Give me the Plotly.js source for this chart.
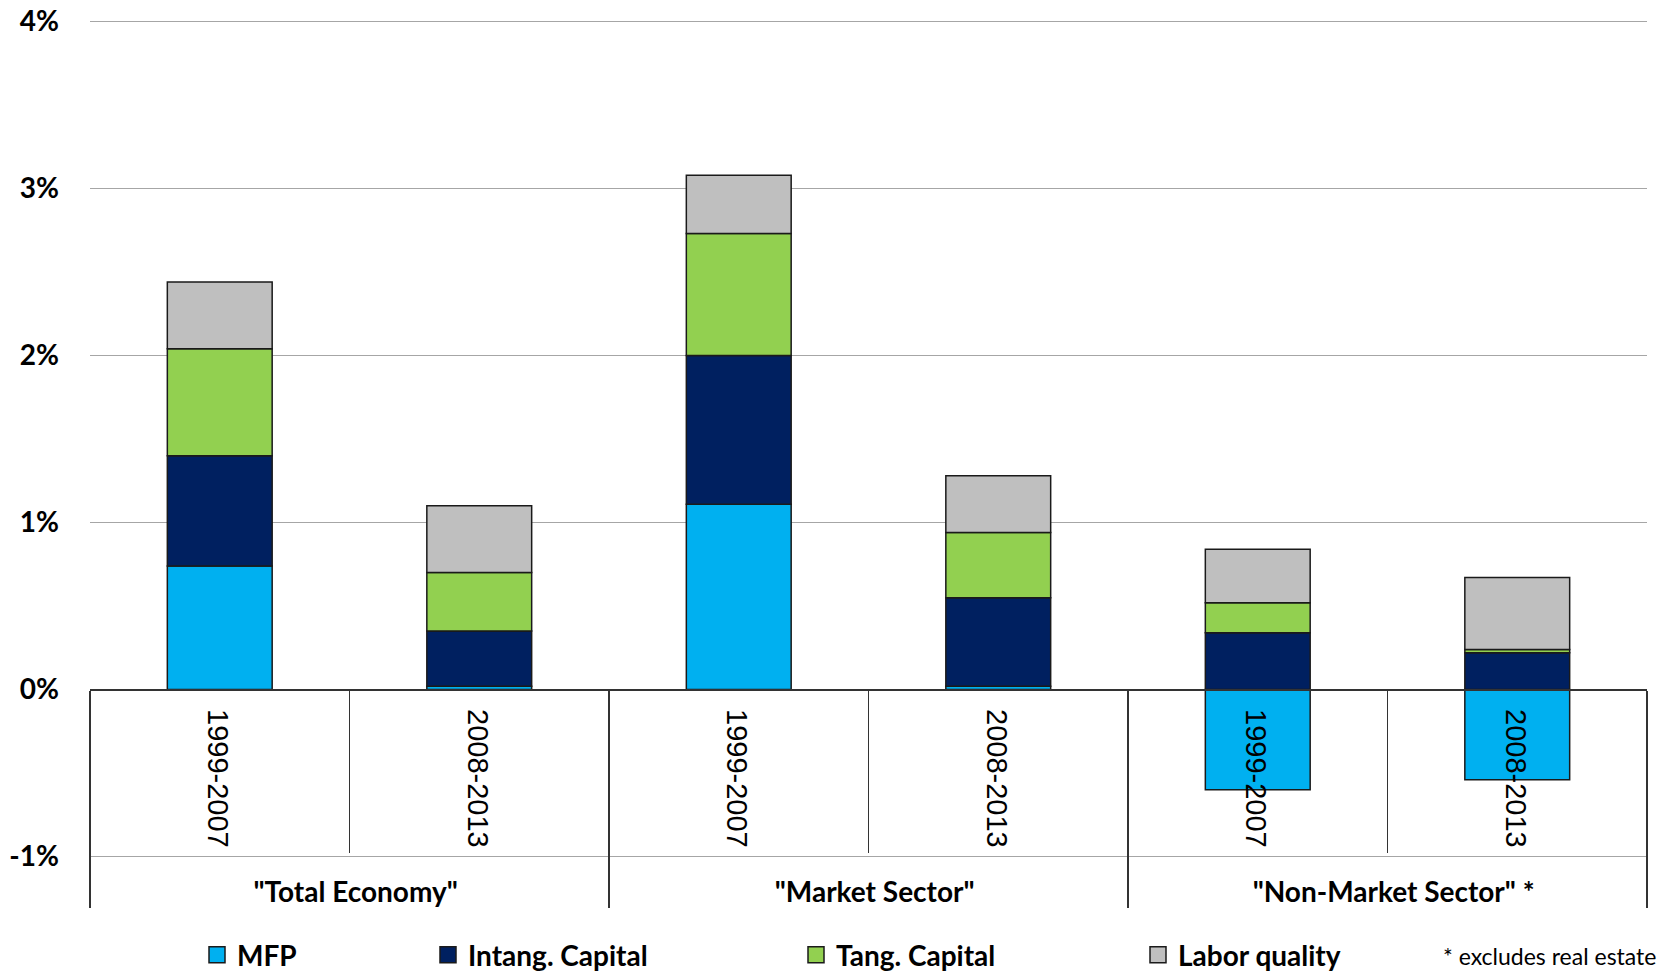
<!DOCTYPE html>
<html>
<head>
<meta charset="utf-8">
<script src="https://cdn.plot.ly/plotly-3.0.1.min.js"></script>
<style>
  html, body { margin: 0; padding: 0; background: #fff; }
  #chart { width: 1660px; height: 972px; }
</style>
</head>
<body>
<div id="chart"></div>
<script>
// ---- data ----
const groups = ['"Total Economy"', '"Market Sector"', '"Non-Market Sector" *'];
const periods = ['1999-2007', '2008-2013'];

const seriesNames = ['MFP', 'Intang. Capital', 'Tang. Capital', 'Labor quality'];
// values in percent, order: TE 99-07, TE 08-13, MS 99-07, MS 08-13, NMS 99-07, NMS 08-13
const mfp    = [0.74, 0.02, 1.11, 0.02, -0.60, -0.54];
const intang = [0.66, 0.33, 0.89, 0.53, 0.34, 0.22];
const tang   = [0.64, 0.35, 0.73, 0.39, 0.18, 0.02];
const labor  = [0.40, 0.40, 0.35, 0.34, 0.32, 0.43];

const yTickVals = [-1, 0, 1, 2, 3, 4];
const yTickText = ['-1%', '0%', '1%', '2%', '3%', '4%'];
const footnote = '* excludes real estate';

// ---- build ----
const groupStyle = 'font-family:Lato;font-weight:bold;font-size:28px';
const periodStyle = 'font-family:Liberation Sans;font-size:29px';
const xOuter = [], xInner = [];
groups.forEach(g => periods.forEach(p => {
  xOuter.push('<span style="' + groupStyle + '">' + g + '</span>');
  xInner.push('<span style="' + periodStyle + '">' + p + '</span>');
}));

const colors = ['#00B0F0', '#002060', '#92D050', '#BFBFBF'];
const allSeries = [mfp, intang, tang, labor];
const legendIds = ['legend', 'legend2', 'legend3', 'legend4'];

const traces = allSeries.map((vals, i) => ({
  type: 'bar',
  name: seriesNames[i],
  x: [xOuter, xInner],
  y: vals,
  marker: { color: colors[i], line: { color: '#1a1a1a', width: 1.5 } },
  showlegend: false,
  hoverinfo: 'skip'
}));
// legend entries (square swatches)
allSeries.forEach((vals, i) => traces.push({
  type: 'scatter', mode: 'markers',
  name: seriesNames[i],
  x: [null], y: [null], xaxis: 'x2', yaxis: 'y2',
  marker: { symbol: 'square', size: 19, color: colors[i], line: { color: '#1a1a1a', width: 1.5 } },
  legend: legendIds[i], showlegend: true, hoverinfo: 'skip'
}));

const yRange = [-1.015, 4.015];
const zeroPos = (0 - yRange[0]) / (yRange[1] - yRange[0]);

const legendX = [197, 428, 796, 1138];
const legFont = { family: 'Lato, "Open Sans", sans-serif', size: 28, color: '#000', weight: 'bold' };
const mkLegend = (x) => ({
  x: x / 1660, xref: 'container', xanchor: 'left',
  y: (972 - 955) / 972, yref: 'container', yanchor: 'middle',
  orientation: 'h', font: legFont, bgcolor: 'rgba(0,0,0,0)', borderwidth: 0,
  itemsizing: 'trace', itemwidth: 30
});

const layout = {
  width: 1660, height: 972,
  margin: { l: 90, r: 13, t: 19, b: 113 },
  paper_bgcolor: '#fff', plot_bgcolor: '#fff',
  barmode: 'relative',
  bargap: 0.596,
  showlegend: true,
  legend: mkLegend(legendX[0]),
  legend2: mkLegend(legendX[1]),
  legend3: mkLegend(legendX[2]),
  legend4: mkLegend(legendX[3]),
  xaxis: {
    type: 'multicategory',
    anchor: 'free', position: zeroPos,
    showline: true, linecolor: '#333', linewidth: 1.5,
    ticks: 'outside', tickson: 'boundaries', ticklen: 162, tickwidth: 1.2, tickcolor: '#333',
    ticklabelstandoff: 11,
    tickangle: 90,
    tickfont: { family: '"Liberation Sans", Arial, sans-serif', size: 35, color: '#000' },
    showdividers: true, dividercolor: '#333', dividerwidth: 1.2,
    showgrid: false, zeroline: false
  },
  yaxis: {
    range: yRange, tickvals: yTickVals, ticktext: yTickText,
    showgrid: true, gridcolor: '#a6a6a6', gridwidth: 1.5,
    zeroline: false, showline: false, ticks: '',
    ticklabelstandoff: 30,
    tickfont: { family: 'Lato, "Open Sans", sans-serif', size: 28, color: '#000', weight: 'bold' }
  },
  xaxis2: { visible: false, overlaying: 'x', range: [0, 1] },
  yaxis2: { visible: false, overlaying: 'y', range: [0, 1] },
  annotations: [{
    text: footnote, showarrow: false,
    xref: 'paper', yref: 'paper', xanchor: 'right', yanchor: 'bottom',
    x: (1658 - 90) / 1557, y: (859 - 972) / 840,
    font: { family: 'Lato, "Open Sans", sans-serif', size: 23, color: '#000' }
  }]
};

Plotly.newPlot('chart', traces, layout, { displayModeBar: false, staticPlot: true });
</script>
</body>
</html>
